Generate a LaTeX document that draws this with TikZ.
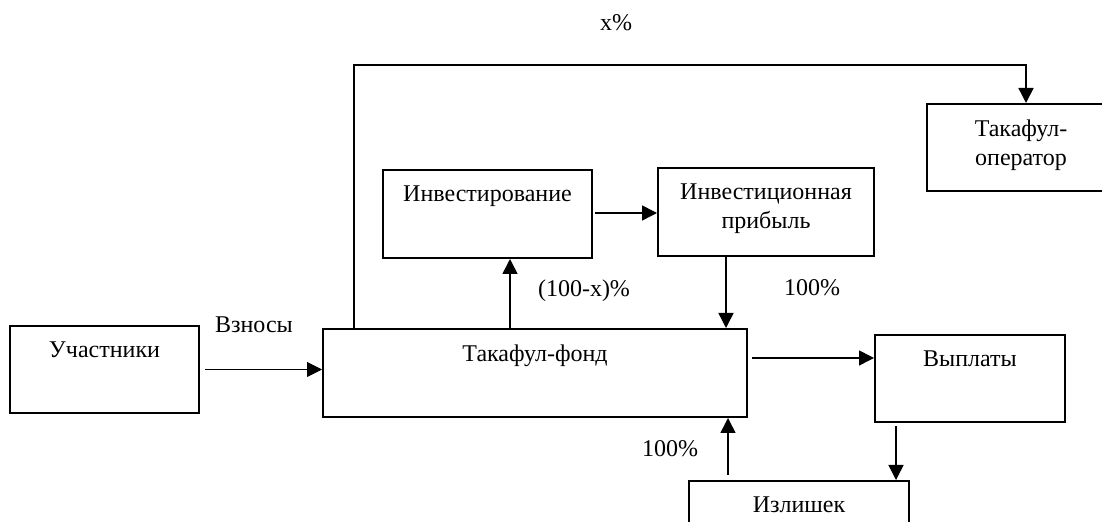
\documentclass[tikz,border=0pt]{standalone}
\usepackage{fontspec}
\setmainfont{Liberation Serif}
\usetikzlibrary{arrows.meta}

\begin{document}
\begin{tikzpicture}
[x=0.5pt,y=-0.5pt,
  boxDecorate/.style={shape=rectangle,draw,line width=1pt,inner sep=0pt},%
  textDecorate/.style={font=\fontsize{12pt}{14.5pt}\selectfont,inner sep=0pt,align=center},%
  arrowDecorate/.style={-{Triangle[length=7.5pt,width=7.5pt]},line width=0.75pt},%
  thinArrow/.style={arrowDecorate,line width=0.5pt}]
\useasboundingbox (0,0) rectangle (1102,522);
%% boxes
\foreach \nodename/\x/\y/\w/\h/\txt in {
  part/104.5/369.5/94.5/43.5/{Участники},
  fond/535/373/212/44/{Такафул-фонд},
  invest/487.5/214/104.5/44/{Инвестирование},
  profit/766/212/108/44/{Инвестиционная\\прибыль},
  oper/1021/147.5/94/43.5/{Такафул-\\оператор},
  pay/970/378.5/95/43.5/{Выплаты},
  surplus/799/524.5/110/43.5/{Излишек}}
{
  \node (\nodename) at (\x,\y) [boxDecorate,minimum width=\w pt,minimum height=\h pt,
    label={[textDecorate,anchor=north,yshift=-8.3pt]north:{\txt}}] {};
}
%% percentages and flow names
\node (xpct) at (616,31) [textDecorate,anchor=base] {x\%};
\node (dues) at (254,333) [textDecorate,anchor=base] {Взносы};
\node (restpct) at (584,297) [textDecorate,anchor=base] {(100-x)\%};
\node (profitpct) at (812,296) [textDecorate,anchor=base] {100\%};
\node (surpluspct) at (670,457) [textDecorate,anchor=base] {100\%};
%% flows
\coordinate (xturn) at (1026,65);
\draw[thinArrow,shorten <=2.5pt] (part.east) -- (part.east -| fond.west);
\draw[arrowDecorate] ([xshift=16pt]fond.north west) |- (xturn) -- (xturn |- oper.north);
\draw[arrowDecorate] ([xshift=11.25pt]invest.south |- fond.north) -- ([xshift=11.25pt]invest.south);
\draw[arrowDecorate,shorten <=1pt] ([yshift=0.5pt]invest.east) -- ([yshift=0.5pt]invest.east -| profit.west);
\draw[arrowDecorate] ([xshift=-20pt]profit.south) -- ([xshift=-20pt]profit.south |- fond.north);
\draw[arrowDecorate,shorten <=2pt] ([yshift=7.5pt]fond.east) -- ([yshift=7.5pt]fond.east -| pay.west);
\draw[arrowDecorate,shorten <=1.5pt] ([xshift=-37pt]pay.south) -- ([xshift=-37pt]pay.south |- surplus.north);
\draw[arrowDecorate,shorten <=2.5pt] ([xshift=-35.5pt]surplus.north) -- ([xshift=-35.5pt]surplus.north |- fond.south);
\end{tikzpicture}
\end{document}
